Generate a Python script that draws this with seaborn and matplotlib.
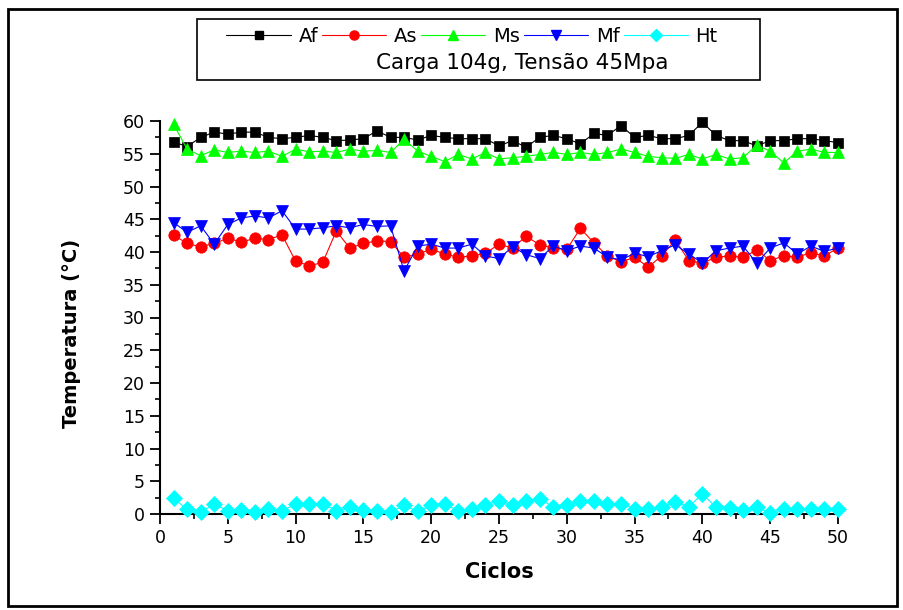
import matplotlib
matplotlib.use('Agg')
import matplotlib.pyplot as plt
import seaborn as sns
from matplotlib.lines import Line2D
from matplotlib.patches import Rectangle
from matplotlib.ticker import MultipleLocator

ciclos = list(range(1, 51))
af = [56.8, 56.1, 57.5, 58.3, 58.0, 58.3, 58.3, 57.5, 57.3, 57.5,
      57.8, 57.5, 57.0, 57.1, 57.3, 58.5, 57.5, 57.5, 57.1, 57.8,
      57.5, 57.3, 57.3, 57.3, 56.2, 57.0, 56.0, 57.5, 57.8, 57.3,
      56.5, 58.1, 57.8, 59.3, 57.5, 57.8, 57.3, 57.3, 57.8, 59.8,
      57.8, 57.0, 57.0, 56.2, 57.0, 57.0, 57.3, 57.3, 57.0, 56.7]
as_ = [42.6, 41.3, 40.8, 41.3, 42.1, 41.5, 42.1, 41.9, 42.6, 38.6,
       37.9, 38.4, 43.2, 40.6, 41.3, 41.7, 41.6, 39.2, 39.7, 40.4,
       39.7, 39.2, 39.4, 39.8, 41.2, 40.6, 42.4, 41.1, 40.6, 40.4,
       43.6, 41.4, 39.4, 38.5, 39.2, 37.7, 39.4, 41.8, 38.7, 38.3,
       39.2, 39.4, 39.2, 40.3, 38.7, 39.4, 39.2, 39.9, 39.4, 40.6]
ms = [59.5, 55.7, 54.7, 55.6, 55.2, 55.4, 55.2, 55.4, 54.6, 55.7,
      55.3, 55.4, 55.2, 55.7, 55.4, 55.5, 55.2, 57.2, 55.4, 54.6,
      53.8, 54.9, 54.2, 55.2, 54.2, 54.4, 54.6, 54.9, 55.2, 54.9,
      55.2, 54.9, 55.2, 55.7, 55.2, 54.6, 54.4, 54.3, 54.9, 54.2,
      54.9, 54.2, 54.4, 56.3, 55.4, 53.6, 55.4, 55.7, 55.2, 55.2]
mf = [44.5, 43.0, 44.0, 41.2, 44.2, 45.2, 45.5, 45.2, 46.3, 43.5,
      43.5, 43.7, 44.0, 43.7, 44.2, 43.9, 44.0, 37.1, 40.9, 41.2,
      40.6, 40.6, 41.2, 39.4, 39.0, 40.8, 39.6, 39.0, 40.9, 40.2,
      40.9, 40.6, 39.2, 38.8, 39.8, 39.3, 40.2, 41.1, 39.7, 38.3,
      40.2, 40.6, 40.9, 38.3, 40.6, 41.4, 39.7, 40.9, 40.1, 40.6]
ht = [2.4, 0.7, 0.3, 1.5, 0.5, 0.6, 0.3, 0.7, 0.5, 1.5,
      1.5, 1.6, 0.5, 1.1, 0.6, 0.5, 0.3, 1.3, 0.4, 1.3,
      1.5, 0.5, 0.7, 1.4, 2.0, 1.4, 2.0, 2.3, 1.1, 1.3,
      2.0, 2.0, 1.5, 1.6, 0.8, 0.8, 1.1, 1.8, 1.1, 3.1,
      1.0, 0.9, 0.6, 1.0, 0.2, 0.8, 0.8, 0.7, 0.7, 0.8]

labels = ['Af', 'As', 'Ms', 'Mf', 'Ht']
colors = ['#000000', '#ff0000', '#00ff00', '#0000ff', '#00ffff']
markers = ['s', 'o', '^', 'v', 'D']
msizes = [7.4, 8.2, 8.8, 8.8, 7.8]
legend_note = 'Carga 104g, Tensão 45Mpa'
xlabel = 'Ciclos'
ylabel = 'Temperatura (°C)'

sns.set_style('ticks')
plt.rcParams['font.family'] = ['DejaVu Sans']
plt.rcParams['text.color'] = 'black'
plt.rcParams['axes.labelcolor'] = 'black'
plt.rcParams['xtick.color'] = 'black'
plt.rcParams['ytick.color'] = 'black'

W, H = 904, 610
fig = plt.figure(figsize=(W / 100, H / 100), dpi=100)
ax = fig.add_axes([160 / W, 1 - 514 / H, (838 - 160) / W, (514 - 121) / H])

for i, (vals, col, mk, msz) in enumerate(zip([af, as_, ms, mf, ht], colors, markers, msizes)):
    sns.lineplot(x=ciclos, y=vals, ax=ax, color=col, marker=mk, markersize=msz,
                 markeredgecolor=col, markeredgewidth=0.5, linewidth=0.8,
                 estimator=None, legend=False, zorder=3 + i, clip_on=False)

ax.set_xlim(0, 50)
ax.set_ylim(0, 60)
ax.xaxis.set_major_locator(MultipleLocator(5))
ax.xaxis.set_minor_locator(MultipleLocator(2.5))
ax.yaxis.set_major_locator(MultipleLocator(5))
ax.yaxis.set_minor_locator(MultipleLocator(2.5))
ax.tick_params(which='major', direction='out', length=7, width=1.3, labelsize=12.5,
               pad=4, colors='black', labelcolor='black')
ax.tick_params(which='minor', direction='out', length=3.5, width=1.2, colors='black')
for s in ['top', 'right']:
    ax.spines[s].set_visible(False)
for s in ['left', 'bottom']:
    ax.spines[s].set_linewidth(1.5)
    ax.spines[s].set_color('black')

ax.set_xlabel(xlabel, fontsize=15, fontweight='bold', color='black')
ax.set_ylabel(ylabel, fontsize=14, fontweight='bold', color='black')
ax.xaxis.set_label_coords(0.5, (514 - 572) / (514 - 121))
ax.yaxis.set_label_coords((72 - 160) / (838 - 160), 0.46)
ax.xaxis.label.set_va('center')
ax.yaxis.label.set_va('center')

handles = [Line2D([], [], color=c, marker=m, markersize=ms_ * 0.8, markeredgecolor=c,
                  linewidth=0.8) for c, m, ms_ in zip(colors, markers, msizes)]
leg = fig.legend(handles, labels, loc='center', bbox_to_anchor=(472 / W, 1 - 36 / H),
                 ncol=5, frameon=False, handlelength=3.3, handletextpad=0.4,
                 columnspacing=0.2, fontsize=14, borderaxespad=0, borderpad=0)
for t in leg.get_texts():
    t.set_color('black')
fig.text(522 / W, 1 - 63 / H, legend_note, ha='center', va='center', fontsize=15.5,
         color='black')

fig.add_artist(Rectangle((197 / W, 1 - 80 / H), (760 - 197) / W, (80 - 19) / H,
                         transform=fig.transFigure, fill=False, edgecolor='black',
                         linewidth=1.2))
fig.add_artist(Rectangle((8 / W, 1 - 606 / H), (897 - 8) / W, (606 - 9) / H,
                         transform=fig.transFigure, fill=False, edgecolor='black',
                         linewidth=2))

fig.savefig('out.png', dpi=100)
